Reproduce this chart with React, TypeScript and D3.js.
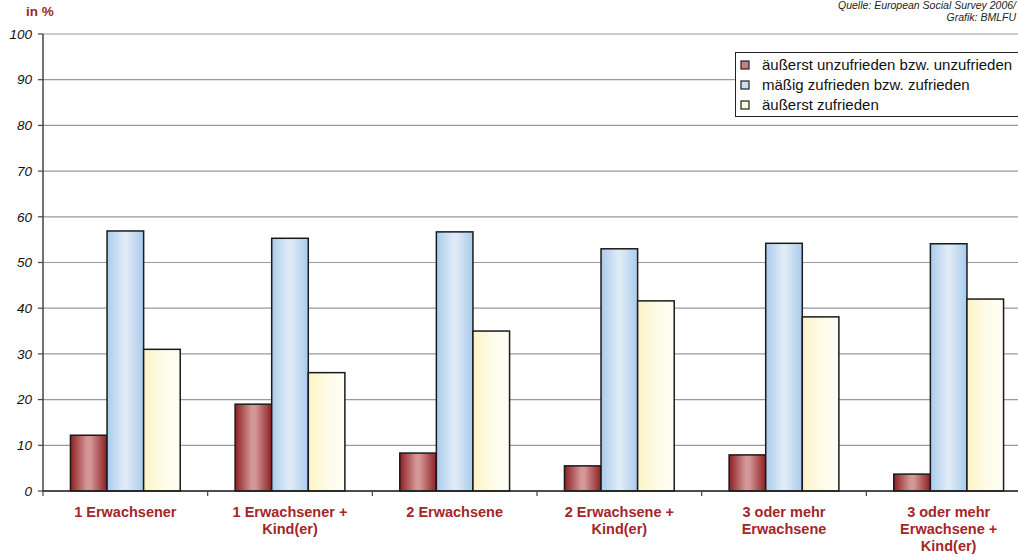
import React from "react";
import * as d3 from "d3";

const categories = [
  ["1 Erwachsener"],
  ["1 Erwachsener +", "Kind(er)"],
  ["2 Erwachsene"],
  ["2 Erwachsene +", "Kind(er)"],
  ["3 oder mehr", "Erwachsene"],
  ["3 oder mehr", "Erwachsene +", "Kind(er)"],
];
const seriesNames = [
  "äußerst unzufrieden bzw. unzufrieden",
  "mäßig zufrieden bzw. zufrieden",
  "äußerst zufrieden",
];
const unzufrieden = [12.2, 19.0, 8.3, 5.5, 7.9, 3.7];
const zufrieden = [56.9, 55.3, 56.7, 53.0, 54.2, 54.1];
const sehrZufrieden = [31.0, 25.9, 35.0, 41.6, 38.1, 42.0];
const yTicks = [0, 10, 20, 30, 40, 50, 60, 70, 80, 90, 100];

const W = 1018;
const H = 555;
const left = 43;
const right = 1031;
const top = 34;
const bottom = 491;
const labelRed = "#a3262a";

export default function App() {
  const catKeys = categories.map((c) => c.join(" "));
  const x0 = d3.scaleBand<string>().domain(catKeys).range([left, right]).padding(0);
  const x1 = d3
    .scaleBand<string>()
    .domain(["a", "b", "c"])
    .range([0, x0.step()])
    .paddingInner(0)
    .paddingOuter(0.75);
  const y = d3.scaleLinear().domain([0, 100]).range([bottom, top]);
  const data = [unzufrieden, zufrieden, sehrZufrieden];
  const fills = ["url(#gRed)", "url(#gBlue)", "url(#gYellow)"];
  const swatch = ["#c98080", "#c9def2", "#fdf8d8"];

  return (
    <div style={{ position: "absolute", left: 0, top: 0 }}>
      <svg width={W} height={H} style={{ display: "block", fontFamily: "'Liberation Sans', Arial, sans-serif" }}>
        <defs>
          <linearGradient id="gRed" x1="0" x2="1" y1="0" y2="0">
            <stop offset="0" stopColor="#8e1f22" />
            <stop offset="0.45" stopColor="#d49798" />
            <stop offset="0.55" stopColor="#d49798" />
            <stop offset="1" stopColor="#8e1f22" />
          </linearGradient>
          <linearGradient id="gBlue" x1="0" x2="1" y1="0" y2="0">
            <stop offset="0" stopColor="#a8cbec" />
            <stop offset="0.45" stopColor="#deeaf6" />
            <stop offset="0.55" stopColor="#deeaf6" />
            <stop offset="1" stopColor="#a8cbec" />
          </linearGradient>
          <linearGradient id="gYellow" x1="0" x2="1" y1="0" y2="0">
            <stop offset="0" stopColor="#fcf3c4" />
            <stop offset="0.5" stopColor="#fefbe6" />
            <stop offset="1" stopColor="#fffef6" />
          </linearGradient>
        </defs>

        {/* gridlines */}
        {yTicks.map((t) => (
          <line key={"g" + t} x1={left} x2={right} y1={y(t)} y2={y(t)} stroke="#9a9a9a" strokeWidth={1.2} />
        ))}

        {/* bars */}
        {catKeys.map((c, i) => (
          <g key={c} transform={`translate(${x0(c)},0)`}>
            {data.map((s, j) => {
              const k = ["a", "b", "c"][j];
              return (
                <rect
                  key={k}
                  x={x1(k)}
                  y={y(s[i])}
                  width={x1.bandwidth()}
                  height={bottom - y(s[i])}
                  fill={fills[j]}
                  stroke="#1a1a1a"
                  strokeWidth={1.5}
                />
              );
            })}
          </g>
        ))}

        {/* y axis */}
        <line x1={left} x2={left} y1={top} y2={bottom} stroke="#444" strokeWidth={1.5} />
        {yTicks.map((t) => (
          <g key={"t" + t}>
            <line x1={left - 5} x2={left} y1={y(t)} y2={y(t)} stroke="#444" strokeWidth={1.2} />
            <text x={32} y={y(t)} dy="0.35em" textAnchor="end" fontSize={13.5} fontStyle="italic" fill="#111">
              {t}
            </text>
          </g>
        ))}

        {/* x axis */}
        <line x1={left} x2={right} y1={bottom} y2={bottom} stroke="#222" strokeWidth={1.5} />
        {catKeys.map((c) => (
          <line key={"xt" + c} x1={x0(c)!} x2={x0(c)!} y1={bottom} y2={bottom + 5} stroke="#444" strokeWidth={1.2} />
        ))}
        {categories.map((lines, i) => {
          const cx = x0(catKeys[i])! + x0.bandwidth() / 2;
          return (
            <text key={"xl" + i} x={cx} textAnchor="middle" fontSize={14.5} fontWeight="bold" fill={labelRed}>
              {lines.map((l, li) => (
                <tspan key={li} x={cx} y={517 + li * 17}>
                  {l}
                </tspan>
              ))}
            </text>
          );
        })}

        {/* unit label */}
        <text x={26} y={16} fontSize={13.5} fontWeight="bold" fill={labelRed}>
          in %
        </text>

        {/* source */}
        <text x={1016} y={9} textAnchor="end" fontSize={10.5} fontStyle="italic" fill="#222">
          Quelle: European Social Survey 2006/
        </text>
        <text x={1016} y={21} textAnchor="end" fontSize={10.5} fontStyle="italic" fill="#222">
          Grafik: BMLFU
        </text>

        {/* legend */}
        <rect x={735.5} y={52.5} width={300} height={64} fill="#fff" stroke="#222" strokeWidth={1} />
        {seriesNames.map((n, j) => (
          <g key={n} transform={`translate(741, ${65 + j * 20})`}>
            <rect x={0} y={-4} width={8} height={8} fill={swatch[j]} stroke="#222" strokeWidth={1.2} />
            <text x={21} y={0} dy="0.35em" fontSize={15} fill="#111">
              {n}
            </text>
          </g>
        ))}
      </svg>
    </div>
  );
}
